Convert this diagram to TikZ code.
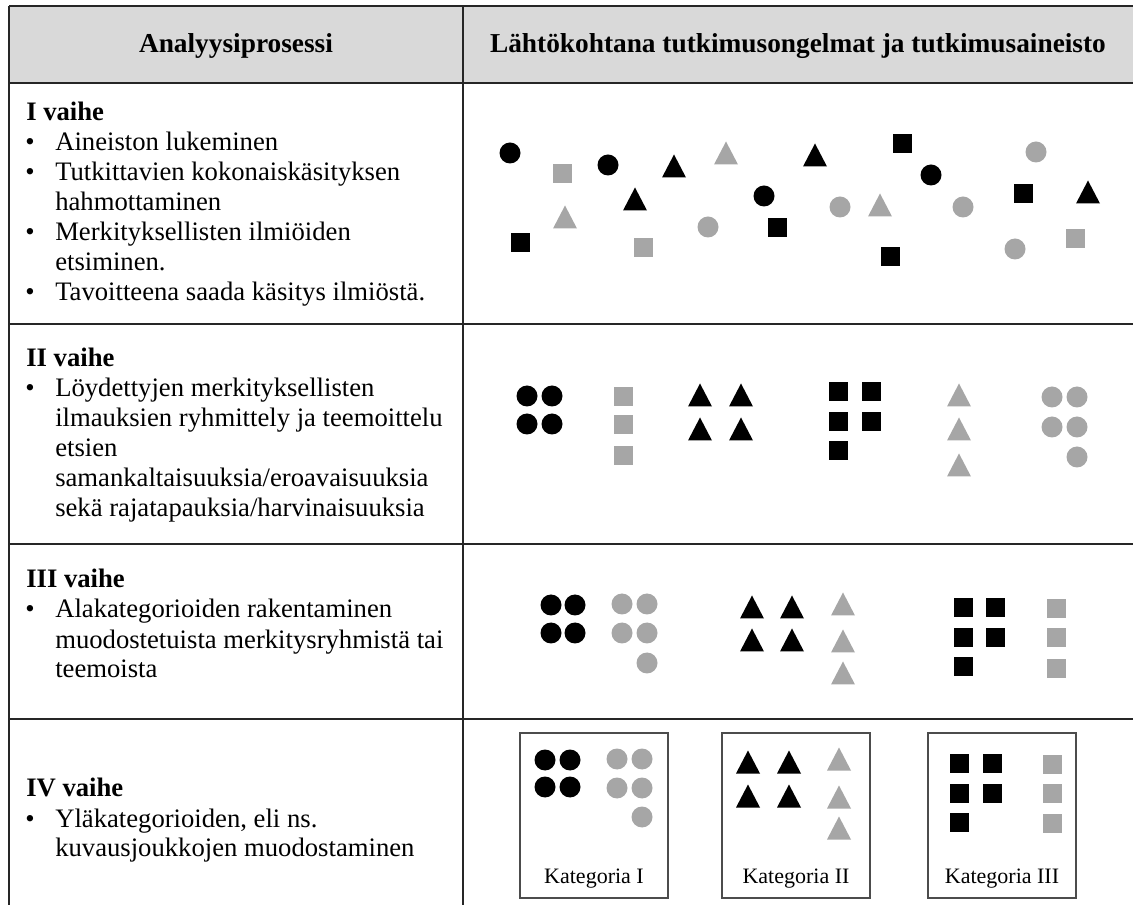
\documentclass[tikz,border=0pt]{standalone}
\usepackage{fontspec}
\setmainfont{Liberation Serif}
\definecolor{hdrgray}{RGB}{217,217,217}
\definecolor{shapegray}{RGB}{166,166,166}

\begin{document}
\begin{tikzpicture}[
    x=0.75pt, y=-0.75pt,
    every node/.style={font=\fontsize{20}{24}\selectfont},
    txt/.style={anchor=base west, inner sep=0pt},
    bul/.style={anchor=base, inner sep=0pt},
    head/.style={
        anchor=base,
        inner sep=0pt,
        font=\fontsize{20.5}{24}\selectfont\bfseries
    },
    kat/.style={anchor=base, inner sep=0pt, font=\fontsize{16.5}{19}\selectfont},
    rule/.style={line width=1.6pt, draw=black!85},
    katbox/.style={
        draw=black!70,
        line width=0.8pt,
        minimum width=111pt,
        minimum height=123.75pt
    },
    blk/.style={fill=black},
    gry/.style={fill=shapegray},
    dot/.pic={\path[pic actions] (0,0) circle (10.5);},
    sq/.pic={\path[pic actions] (-9.5,-9.5) rectangle (9.5,9.5);},
    tri/.pic={\path[pic actions] (-12,11.5) -- (12,11.5) -- (0,-11.5) -- cycle;}
]
    \useasboundingbox (0,0) rectangle (1133,905);

    % Header row
    \fill[hdrgray] (9,6) rectangle (1133,83);
    \node[head] (h1) at (236,53) {Analyysiprosessi};
    \node[head] (h2) at (798,53) {Lähtökohtana tutkimusongelmat ja tutkimusaineisto};

    % Table rules
    \draw[rule] (9,6) -- (1133,6);
    \draw[rule] (9,6) -- (9,905);
    \draw[rule] (463,6) -- (463,905);
    \draw[rule, line width=2pt] (9,83) -- (1133,83);
    \draw[rule] (9,324) -- (1133,324);
    \draw[rule] (9,544) -- (1133,544);
    \draw[rule] (9,719) -- (1133,719);

    % I vaihe
    \node[txt] (r1t) at (26,121) {\textbf{I vaihe}};
    \node[bul] (r1b1) at (30,151) {\textbullet};
    \node[txt] (r1a) at (55,151) {Aineiston lukeminen};
    \node[bul] (r1b2) at (30,181) {\textbullet};
    \node[txt] (r1b) at (55,181) {Tutkittavien kokonaiskäsityksen};
    \node[txt] (r1c) at (55,211) {hahmottaminen};
    \node[bul] (r1b3) at (30,241) {\textbullet};
    \node[txt] (r1d) at (55,241) {Merkityksellisten ilmiöiden};
    \node[txt] (r1e) at (55,271) {etsiminen.};
    \node[bul] (r1b4) at (30,301) {\textbullet};
    \node[txt] (r1f) at (55,301) {Tavoitteena saada käsitys ilmiöstä.};

    % II vaihe
    \node[txt] (r2t) at (26,367) {\textbf{II vaihe}};
    \node[bul] (r2b1) at (30,397) {\textbullet};
    \node[txt] (r2a) at (55,397) {Löydettyjen merkityksellisten};
    \node[txt] (r2b) at (55,427) {ilmauksien ryhmittely ja teemoittelu};
    \node[txt] (r2c) at (55,457) {etsien};
    \node[txt] (r2d) at (55,487) {samankaltaisuuksia/eroavaisuuksia};
    \node[txt] (r2e) at (55,517) {sekä rajatapauksia/harvinaisuuksia};

    % III vaihe
    \node[txt] (r3t) at (26,588) {\textbf{III vaihe}};
    \node[bul] (r3b1) at (30,618) {\textbullet};
    \node[txt] (r3a) at (55,618) {Alakategorioiden rakentaminen};
    \node[txt] (r3b) at (55,648) {muodostetuista merkitysryhmistä tai};
    \node[txt] (r3c) at (55,677) {teemoista};

    % IV vaihe
    \node[txt] (r4t) at (26,797) {\textbf{IV vaihe}};
    \node[bul] (r4b1) at (30,827) {\textbullet};
    \node[txt] (r4a) at (55,827) {Yläkategorioiden, eli ns.};
    \node[txt] (r4b) at (55,856) {kuvausjoukkojen muodostaminen};

    % Scattered shapes (I vaihe)
    \pic[blk] at (510,153) {dot};
    \pic[gry] at (562,174) {sq};
    \pic[blk] at (608,165) {dot};
    \pic[blk] at (674,166) {tri};
    \pic[gry] at (726,153) {tri};
    \pic[blk] at (815,155) {tri};
    \pic[blk] at (902,144) {sq};
    \pic[gry] at (1036,152) {dot};
    \pic[blk] at (931,175) {dot};
    \pic[blk] at (635,199) {tri};
    \pic[gry] at (565,217) {tri};
    \pic[blk] at (764,196) {dot};
    \pic[gry] at (840,207) {dot};
    \pic[gry] at (880,205) {tri};
    \pic[gry] at (963,207) {dot};
    \pic[blk] at (1023,194) {sq};
    \pic[blk] at (1088,192) {tri};
    \pic[blk] at (520,243) {sq};
    \pic[gry] at (708,227) {dot};
    \pic[blk] at (777,228) {sq};
    \pic[gry] at (643,248) {sq};
    \pic[blk] at (890,257) {sq};
    \pic[gry] at (1015,249) {dot};
    \pic[gry] at (1075,239) {sq};

    % Groups (II vaihe)
    \pic[blk] at (527,396) {dot};
    \pic[blk] at (552,396) {dot};
    \pic[blk] at (527,424) {dot};
    \pic[blk] at (552,424) {dot};
    \pic[gry] at (623,397) {sq};
    \pic[gry] at (623,425) {sq};
    \pic[gry] at (623,456) {sq};
    \pic[blk] at (700,395) {tri};
    \pic[blk] at (741,395) {tri};
    \pic[blk] at (700,429) {tri};
    \pic[blk] at (741,429) {tri};
    \pic[blk] at (838,392) {sq};
    \pic[blk] at (871,392) {sq};
    \pic[blk] at (838,422) {sq};
    \pic[blk] at (871,422) {sq};
    \pic[blk] at (838,451) {sq};
    \pic[gry] at (959,395) {tri};
    \pic[gry] at (959,429) {tri};
    \pic[gry] at (959,465) {tri};
    \pic[gry] at (1052,397) {dot};
    \pic[gry] at (1077,397) {dot};
    \pic[gry] at (1052,427) {dot};
    \pic[gry] at (1077,427) {dot};
    \pic[gry] at (1077,457) {dot};

    % Subcategories (III vaihe)
    \pic[blk] at (551,605) {dot};
    \pic[blk] at (575,605) {dot};
    \pic[blk] at (551,633) {dot};
    \pic[blk] at (575,633) {dot};
    \pic[gry] at (622,604) {dot};
    \pic[gry] at (647,604) {dot};
    \pic[gry] at (622,633) {dot};
    \pic[gry] at (647,633) {dot};
    \pic[gry] at (647,663) {dot};
    \pic[blk] at (752,607) {tri};
    \pic[blk] at (792,607) {tri};
    \pic[blk] at (752,640) {tri};
    \pic[blk] at (792,640) {tri};
    \pic[gry] at (843,604) {tri};
    \pic[gry] at (843,641) {tri};
    \pic[gry] at (843,673) {tri};
    \pic[blk] at (963,608) {sq};
    \pic[blk] at (995,608) {sq};
    \pic[blk] at (963,638) {sq};
    \pic[blk] at (995,638) {sq};
    \pic[blk] at (963,667) {sq};
    \pic[gry] at (1056,609) {sq};
    \pic[gry] at (1056,638) {sq};
    \pic[gry] at (1056,669) {sq};

    % Categories (IV vaihe)
    \node[katbox] (box1) at (594,815.5) {};
    \node[katbox] (box2) at (796,815.5) {};
    \node[katbox] (box3) at (1002,815.5) {};
    \node[kat] (kat1) at (594,883) {Kategoria I};
    \node[kat] (kat2) at (796,883) {Kategoria II};
    \node[kat] (kat3) at (1002,883) {Kategoria III};

    \pic[blk] at (545,760) {dot};
    \pic[blk] at (570,760) {dot};
    \pic[blk] at (545,787) {dot};
    \pic[blk] at (570,787) {dot};
    \pic[gry] at (617,759) {dot};
    \pic[gry] at (642,759) {dot};
    \pic[gry] at (617,788) {dot};
    \pic[gry] at (642,788) {dot};
    \pic[gry] at (642,817) {dot};
    \pic[blk] at (748,762) {tri};
    \pic[blk] at (789,762) {tri};
    \pic[blk] at (748,796) {tri};
    \pic[blk] at (789,796) {tri};
    \pic[gry] at (839,759) {tri};
    \pic[gry] at (839,797) {tri};
    \pic[gry] at (839,828) {tri};
    \pic[blk] at (959,763) {sq};
    \pic[blk] at (992,763) {sq};
    \pic[blk] at (959,793) {sq};
    \pic[blk] at (992,793) {sq};
    \pic[blk] at (959,822) {sq};
    \pic[gry] at (1052,764) {sq};
    \pic[gry] at (1052,793) {sq};
    \pic[gry] at (1052,823) {sq};

\end{tikzpicture}
\end{document}
